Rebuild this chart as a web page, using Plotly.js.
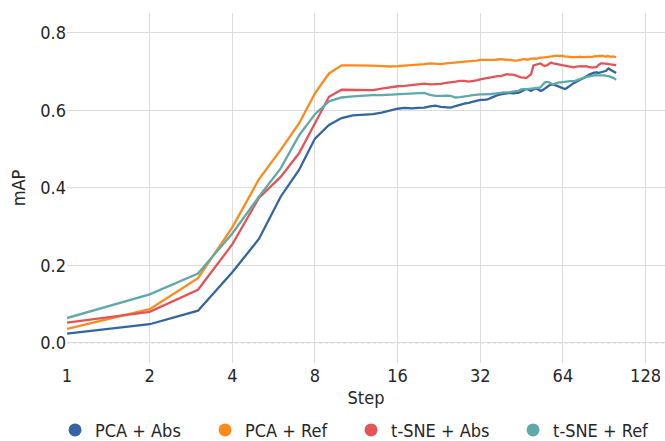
<!DOCTYPE html>
<html>
<head>
<meta charset="utf-8">
<script src="https://cdn.plot.ly/plotly-3.0.1.min.js"></script>
<style>
html,body{margin:0;padding:0;background:#fff;}
#chart{width:665px;height:441px;}
#chart svg text{font-stretch: condensed;}
</style>
</head>
<body>
<div id="chart"></div>
<script>
const steps = Array.from({length: 100}, (_, i) => i + 1);

const seriesNames = ["PCA + Abs", "PCA + Ref", "t-SNE + Abs", "t-SNE + Ref"];
const seriesColors = ["#3465a0", "#ff8a1c", "#e45456", "#5fa9a9"];

const pcaAbs = [
0.024,0.048,0.083,0.182,0.268,0.377,0.446,0.527,0.562,0.580,
0.587,0.588,0.590,0.594,0.600,0.604,0.606,0.605,0.606,0.607,
0.610,0.612,0.609,0.607,0.607,0.611,0.615,0.617,0.619,0.622,
0.626,0.627,0.627,0.628,0.632,0.636,0.639,0.641,0.643,0.644,
0.645,0.644,0.644,0.645,0.648,0.652,0.655,0.653,0.650,0.654,
0.657,0.654,0.650,0.652,0.656,0.661,0.664,0.666,0.667,0.665,
0.663,0.661,0.659,0.657,0.655,0.657,0.661,0.664,0.667,0.670,
0.672,0.674,0.676,0.678,0.680,0.682,0.685,0.688,0.691,0.693,
0.694,0.696,0.697,0.697,0.698,0.696,0.697,0.698,0.699,0.700,
0.700,0.702,0.706,0.708,0.705,0.703,0.702,0.700,0.698,0.696];

const pcaRef = [
0.036,0.087,0.167,0.298,0.422,0.498,0.566,0.644,0.695,0.716,
0.716,0.716,0.715,0.714,0.713,0.714,0.715,0.716,0.718,0.719,
0.721,0.720,0.719,0.721,0.722,0.723,0.723,0.724,0.726,0.727,
0.728,0.730,0.730,0.729,0.729,0.730,0.731,0.732,0.731,0.730,
0.729,0.729,0.728,0.729,0.730,0.732,0.731,0.731,0.733,0.734,
0.733,0.735,0.736,0.736,0.737,0.738,0.737,0.739,0.740,0.741,
0.741,0.740,0.741,0.740,0.739,0.738,0.737,0.736,0.737,0.737,
0.736,0.737,0.737,0.738,0.737,0.736,0.737,0.738,0.738,0.738,
0.737,0.738,0.739,0.739,0.740,0.740,0.739,0.740,0.741,0.740,
0.739,0.738,0.740,0.739,0.738,0.738,0.739,0.738,0.737,0.737];

const tsneAbs = [
0.052,0.080,0.137,0.254,0.374,0.428,0.489,0.567,0.635,0.653,
0.652,0.651,0.652,0.656,0.660,0.662,0.663,0.665,0.667,0.669,
0.667,0.668,0.668,0.671,0.672,0.674,0.676,0.676,0.674,0.675,
0.677,0.680,0.682,0.684,0.685,0.686,0.688,0.688,0.691,0.693,
0.692,0.692,0.690,0.687,0.685,0.684,0.683,0.688,0.693,0.716,
0.718,0.719,0.721,0.717,0.714,0.716,0.720,0.723,0.721,0.720,
0.720,0.719,0.718,0.716,0.715,0.714,0.713,0.712,0.711,0.711,
0.712,0.713,0.714,0.714,0.713,0.713,0.714,0.714,0.712,0.711,
0.710,0.710,0.711,0.711,0.712,0.716,0.719,0.721,0.721,0.721,
0.721,0.720,0.720,0.719,0.718,0.717,0.718,0.717,0.717,0.716];

const tsneRef = [
0.064,0.125,0.179,0.282,0.377,0.450,0.535,0.590,0.623,0.633,
0.636,0.638,0.639,0.639,0.640,0.641,0.641,0.642,0.644,0.645,
0.640,0.637,0.637,0.638,0.637,0.633,0.634,0.635,0.637,0.639,
0.641,0.641,0.641,0.641,0.642,0.643,0.645,0.645,0.646,0.646,
0.647,0.648,0.649,0.650,0.654,0.654,0.654,0.655,0.656,0.658,
0.658,0.658,0.659,0.666,0.672,0.673,0.672,0.669,0.667,0.669,
0.671,0.672,0.672,0.673,0.674,0.674,0.674,0.675,0.675,0.675,
0.676,0.678,0.680,0.681,0.682,0.684,0.685,0.686,0.688,0.689,
0.690,0.691,0.691,0.691,0.690,0.690,0.691,0.691,0.690,0.691,
0.690,0.689,0.689,0.688,0.687,0.686,0.685,0.683,0.681,0.679];

const xTickVals = [1, 2, 4, 8, 16, 32, 64, 128];
const xTickText = ["1", "2", "4", "8", "16", "32", "64", "128"];
const yTickVals = [0, 0.2, 0.4, 0.6, 0.8];
const yTickText = ["0.0", "0.2", "0.4", "0.6", "0.8"];

const seriesValues = [pcaAbs, pcaRef, tsneAbs, tsneRef];
const legendWidths = [105, 101, 117, 100];
const FONT = '"DejaVu Sans", sans-serif';
const TXT = '#262626';

const lineTraces = seriesValues.map((vals, i) => ({
  type: 'scatter',
  mode: 'lines',
  x: steps,
  y: vals,
  name: seriesNames[i],
  showlegend: false,
  line: {color: seriesColors[i], width: 2.3},
}));

const legendTraces = seriesNames.map((nm, i) => ({
  type: 'scatter',
  mode: 'markers',
  x: [null],
  y: [null],
  name: nm,
  showlegend: true,
  legendwidth: legendWidths[i],
  marker: {color: seriesColors[i], size: 13, symbol: 'circle'},
}));

const layout = {
  width: 665,
  height: 441,
  margin: {l: 67, r: 0, t: 13, b: 78, autoexpand: false},
  paper_bgcolor: '#ffffff',
  plot_bgcolor: '#ffffff',
  font: {family: FONT, size: 18, color: TXT},
  showlegend: true,
  legend: {
    orientation: 'h',
    x: -0.02, xanchor: 'left',
    y: -0.192, yanchor: 'middle',
    font: {family: FONT, size: 18, color: TXT},
    entrywidthmode: 'pixels',
    bgcolor: 'rgba(0,0,0,0)'
  },
  xaxis: {
    type: 'log',
    range: [0, 2.178],
    tickvals: xTickVals,
    ticktext: xTickText,
    showgrid: true,
    gridcolor: '#dcdcdc',
    gridwidth: 1,
    zeroline: false,
    showline: false,
    ticks: '',
    tickfont: {family: FONT, size: 18, color: TXT},
    title: {text: 'Step', font: {family: FONT, size: 18, color: TXT}, standoff: 6},
    automargin: false
  },
  yaxis: {
    range: [-0.052, 0.851],
    tickvals: yTickVals,
    ticktext: yTickText,
    showgrid: true,
    gridcolor: '#dcdcdc',
    gridwidth: 1,
    zeroline: false,
    showline: false,
    ticks: '',
    tickfont: {family: FONT, size: 18, color: TXT},
    title: {text: 'mAP', font: {family: FONT, size: 18, color: TXT}, standoff: 7},
    automargin: false
  },
  shapes: [{
    type: 'line', xref: 'paper', yref: 'y', x0: 0, x1: 1, y0: 0, y1: 0,
    line: {color: '#d8d8d8', width: 1.5, dash: 'dot'}, layer: 'below'
  }]
};

Plotly.newPlot('chart', lineTraces.concat(legendTraces), layout, {displayModeBar: false, staticPlot: true});
</script>
</body>
</html>
